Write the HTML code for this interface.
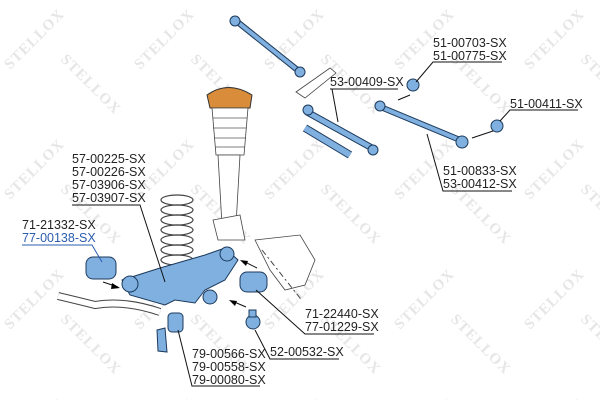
<!DOCTYPE html>
<html><head><meta charset="utf-8"><style>
html,body{margin:0;padding:0;background:#fff;}
svg{display:block;}
.l{font-family:"Liberation Sans",sans-serif;font-size:12.5px;fill:#222;}
.w{font-family:"Liberation Serif",serif;font-weight:bold;font-size:15px;fill:#e6e6e6;letter-spacing:1px;}
.p{fill:#7fb0e0;stroke:#1c3a5c;stroke-width:1;}
.ln{stroke:#111;stroke-width:1;fill:none;}
.g{fill:#fff;stroke:#444;stroke-width:0.8;}
</style></head><body>
<svg width="600" height="400" viewBox="0 0 600 400" xmlns="http://www.w3.org/2000/svg">
<defs>
<pattern id="wm" width="130" height="130" patternUnits="userSpaceOnUse">
<text class="w" x="0" y="0" transform="translate(10,70) rotate(-45)">STELLOX</text>
<text class="w" x="0" y="0" transform="translate(60,60) rotate(45)">STELLOX</text>
</pattern>
</defs>
<rect width="600" height="400" fill="url(#wm)"/>

<!-- upper tie rod -->
<line x1="235" y1="20" x2="300" y2="72" stroke="#1c3a5c" stroke-width="6"/>
<line x1="235" y1="20" x2="300" y2="72" stroke="#7fb0e0" stroke-width="4"/>
<circle cx="235" cy="21" r="5" class="p"/><circle cx="300" cy="72" r="5" class="p"/>
<path d="M296 92 L330 68 L336 73 L305 98 Z" class="g"/>
<!-- center rod -->
<line x1="307" y1="112" x2="372" y2="148" stroke="#1c3a5c" stroke-width="7"/>
<line x1="307" y1="112" x2="372" y2="148" stroke="#7fb0e0" stroke-width="5"/>
<circle cx="308" cy="110" r="5" class="p"/><circle cx="373" cy="150" r="5" class="p"/>
<!-- damper -->
<line x1="305" y1="128" x2="350" y2="155" stroke="#1c3a5c" stroke-width="8"/>
<line x1="305" y1="128" x2="350" y2="155" stroke="#7fb0e0" stroke-width="6"/>
<!-- right tie rod -->
<line x1="383" y1="108" x2="460" y2="140" stroke="#1c3a5c" stroke-width="6"/>
<line x1="383" y1="108" x2="460" y2="140" stroke="#7fb0e0" stroke-width="4"/>
<circle cx="380" cy="106" r="5" class="p"/><circle cx="462" cy="142" r="6" class="p"/>
<circle cx="413" cy="85" r="6" class="p"/><circle cx="497" cy="126" r="6" class="p"/>
<path d="M410 95 L398 100" class="ln"/><path d="M493 131 L472 138" class="ln"/>

<!-- strut -->
<path d="M207 95 Q228 80 252 95 L250 108 L210 108 Z" fill="#d98d3a" stroke="#333"/>
<path d="M212 108 L248 108 L244 155 L216 155 Z" class="g"/>
<g stroke="#555" stroke-width="0.7"><line x1="213" y1="118" x2="247" y2="118"/><line x1="213" y1="128" x2="246" y2="128"/><line x1="214" y1="138" x2="246" y2="138"/><line x1="215" y1="147" x2="245" y2="147"/></g>
<path d="M218 155 L240 155 L236 225 L222 225 Z" class="g"/>
<path d="M213 220 L240 215 L245 240 L218 240 Z" class="g"/>
<!-- spring -->
<g fill="none" stroke="#444" stroke-width="1.2">
<ellipse cx="177" cy="200" rx="16" ry="5"/><ellipse cx="177" cy="210" rx="16" ry="5"/>
<ellipse cx="177" cy="220" rx="16" ry="5"/><ellipse cx="177" cy="230" rx="16" ry="5"/>
<ellipse cx="177" cy="240" rx="16" ry="5"/><ellipse cx="177" cy="250" rx="16" ry="5"/>
<ellipse cx="177" cy="260" rx="16" ry="5"/></g>
<!-- knuckle -->
<path d="M255 240 L300 235 L315 260 L305 285 L285 290 L270 270 Z" class="g"/>
<path d="M262 250 L300 298 L300 300" stroke="#444" stroke-dasharray="6 3 2 3" fill="none"/>

<!-- lower arm -->
<path d="M122 280 L160 268 L205 255 L225 248 L238 260 L225 280 L205 290 L195 303 L175 300 L165 305 L130 295 Z" class="p"/>
<circle cx="130" cy="284" r="8" class="p"/><circle cx="227" cy="254" r="7" class="p"/>
<circle cx="210" cy="297" r="7" class="p"/>
<!-- bushings -->
<rect x="86" y="257" width="30" height="22" rx="7" class="p"/>
<rect x="240" y="272" width="27" height="20" rx="7" class="p"/>
<rect x="168" y="313" width="15" height="19" rx="4" class="p"/>
<path d="M157 330 L165 328 L167 352 L158 351 Z" class="p"/>
<circle cx="253" cy="322" r="7" class="p"/><rect x="249" y="310" width="7" height="7" class="p"/>
<!-- sway bar -->
<path d="M58 296 Q75 300 95 305 Q125 300 160 312" stroke="#444" stroke-width="8" fill="none"/>
<path d="M58 296 Q75 300 95 305 Q125 300 160 312" stroke="#fff" stroke-width="6" fill="none"/>

<!-- labels -->
<text class="l" x="72" y="163">57-00225-SX</text>
<text class="l" x="72" y="176">57-00226-SX</text>
<text class="l" x="72" y="189">57-03906-SX</text>
<text class="l" x="72" y="202">57-03907-SX</text>
<polyline class="ln" points="72,205 140,205 165,282"/>
<text class="l" x="22" y="229">71-21332-SX</text>
<text class="l" x="22" y="242" style="fill:#2a5db0">77-00138-SX</text>
<polyline points="22,245 92,245 102,262" stroke="#2a5db0" fill="none"/>
<text class="l" x="330" y="86">53-00409-SX</text>
<line class="ln" x1="330" y1="89" x2="398" y2="89"/><line class="ln" x1="332" y1="89" x2="338" y2="122"/>
<text class="l" x="433" y="47">51-00703-SX</text>
<text class="l" x="433" y="60">51-00775-SX</text>
<polyline class="ln" points="502,62 433,62 416,82"/>
<text class="l" x="510" y="108">51-00411-SX</text>
<polyline class="ln" points="578,110 510,110 500,121"/>
<text class="l" x="443" y="175">51-00833-SX</text>
<text class="l" x="443" y="188">53-00412-SX</text>
<polyline class="ln" points="512,191 443,191 427,134"/>
<text class="l" x="305" y="318">71-22440-SX</text>
<text class="l" x="305" y="331">77-01229-SX</text>
<polyline class="ln" points="374,334 305,334 256,290"/>
<text class="l" x="270" y="356">52-00532-SX</text>
<polyline class="ln" points="339,359 270,359 255,330"/>
<text class="l" x="192" y="358">79-00566-SX</text>
<text class="l" x="192" y="371">79-00558-SX</text>
<text class="l" x="192" y="384">79-00080-SX</text>
<polyline class="ln" points="260,386 192,386 178,330"/>
<!-- arrows -->
<line class="ln" x1="103" y1="282" x2="118" y2="287"/><path d="M120 288 L112 283 L111 289Z"/>
<line class="ln" x1="232" y1="301" x2="246" y2="307"/><path d="M229 300 L237 301 L235 306Z"/>
<line class="ln" x1="243" y1="261" x2="257" y2="268"/><path d="M240 260 L248 261 L246 266Z"/>
</svg>
</body></html>
